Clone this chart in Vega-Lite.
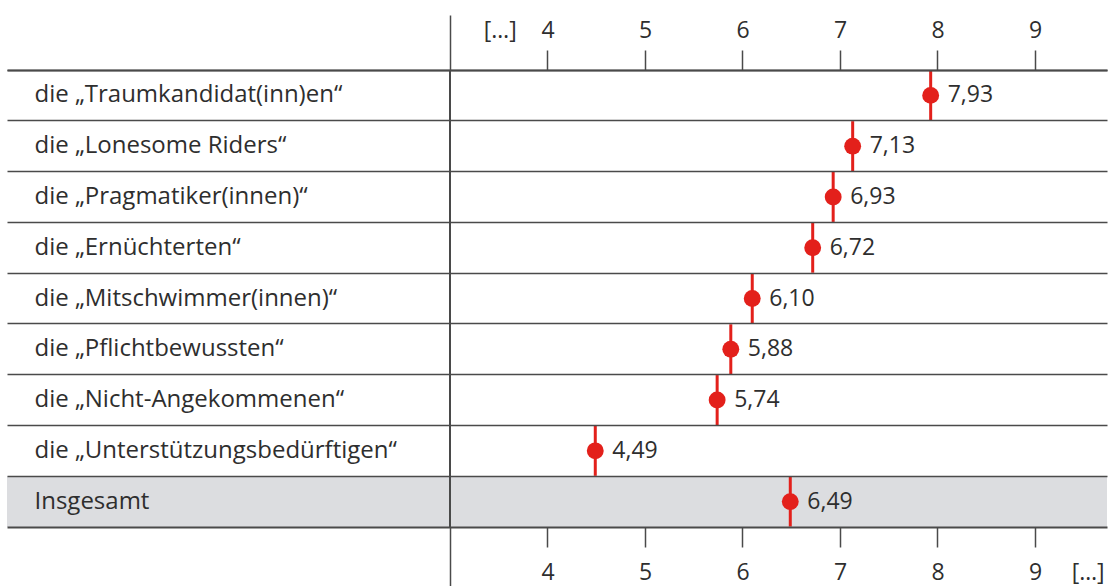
{
  "$schema": "https://vega.github.io/schema/vega-lite/v6.json",
  "width": 1100,
  "height": 457,
  "autosize": {"type": "none"},
  "padding": {"left": 7, "top": 70, "right": 4, "bottom": 59},
  "background": "#ffffff",
  "config": {
    "view": {"stroke": null},
    "font": "Open Sans",
    "locale": {"number": {"decimal": ",", "thousands": ".", "grouping": [3], "currency": ["", " €"]}}
  },
  "data": {
    "values": [
      {"gruppe": "die „Traumkandidat(inn)en“", "wert": 7.93},
      {"gruppe": "die „Lonesome Riders“", "wert": 7.13},
      {"gruppe": "die „Pragmatiker(innen)“", "wert": 6.93},
      {"gruppe": "die „Ernüchterten“", "wert": 6.72},
      {"gruppe": "die „Mitschwimmer(innen)“", "wert": 6.10},
      {"gruppe": "die „Pflichtbewussten“", "wert": 5.88},
      {"gruppe": "die „Nicht-Angekommenen“", "wert": 5.74},
      {"gruppe": "die „Unterstützungsbedürftigen“", "wert": 4.49},
      {"gruppe": "Insgesamt", "wert": 6.49}
    ]
  },
  "resolve": {"axis": {"x": "independent"}},
  "layer": [
    {
      "transform": [{"filter": "datum.gruppe == 'Insgesamt'"}],
      "mark": {"type": "rect", "color": "#dcdde0"},
      "encoding": {
        "y": {
          "field": "gruppe", "type": "nominal",
          "scale": {"type": "band", "paddingInner": 0, "paddingOuter": 0,
            "domain": ["die „Traumkandidat(inn)en“", "die „Lonesome Riders“", "die „Pragmatiker(innen)“", "die „Ernüchterten“", "die „Mitschwimmer(innen)“", "die „Pflichtbewussten“", "die „Nicht-Angekommenen“", "die „Unterstützungsbedürftigen“", "Insgesamt"]},
          "axis": {
            "orient": "left", "title": null, "domain": false, "ticks": false,
            "labelAlign": "left", "labelPadding": -27, "labelFontSize": 24, "labelLimit": 0,
            "labelColor": "#2e2e2e", "labelFont": "Open Sans",
            "grid": true, "bandPosition": 0, "gridColor": "#4a4a4a", "gridWidth": 1.5,
            "zindex": 1
          }
        },
        "x": {
          "datum": -1.5436, "type": "quantitative",
          "scale": {"domain": [-1.5436, 9.7385], "nice": false, "zero": false},
          "axis": {
            "orient": "top", "title": null,
            "values": [3, 3.51, 4, 5, 6, 7, 8, 9],
            "labelExpr": "datum.value == 3 ? '' : (datum.value == 3.51 ? '[…]' : format(datum.value, 'd'))",
            "labelFontSize": 23, "labelColor": "#2e2e2e", "labelPadding": 8,
            "labelFlush": false, "labelOverlap": false,
            "tickColor": "#4a4a4a", "tickWidth": 1.5,
            "tickSize": {"expr": "datum.value == 3 ? 55 : 20"},
            "tickOpacity": {"expr": "datum.value == 3.51 ? 0 : 1"},
            "domainColor": "#4a4a4a", "domainWidth": 2, "grid": false, "zindex": 1
          }
        },
        "x2": {"datum": 9.7385}
      }
    },
    {
      "mark": {"type": "rule", "color": "#4a4a4a", "strokeWidth": 1.5},
      "encoding": {
        "x": {
          "datum": 3, "type": "quantitative",
          "axis": {
            "orient": "bottom", "title": null,
            "values": [3, 4, 5, 6, 7, 8, 9, 9.54],
            "labelExpr": "datum.value == 3 ? '' : (datum.value == 9.54 ? '[…]' : format(datum.value, 'd'))",
            "labelFontSize": 23, "labelColor": "#2e2e2e", "labelPadding": 14,
            "labelFlush": false, "labelOverlap": false,
            "tickColor": "#4a4a4a", "tickWidth": 1.5,
            "tickSize": {"expr": "datum.value == 3 ? 59 : 20"},
            "tickOpacity": {"expr": "datum.value == 9.54 ? 0 : 1"},
            "domainColor": "#4a4a4a", "domainWidth": 2, "grid": false, "zindex": 1
          }
        }
      }
    },
    {
      "mark": {"type": "tick", "color": "#e3201b", "thickness": 3, "size": 50, "orient": "vertical", "opacity": 1},
      "encoding": {
        "y": {"field": "gruppe", "type": "nominal"},
        "x": {"field": "wert", "type": "quantitative", "axis": null}
      }
    },
    {
      "mark": {"type": "circle", "color": "#e3201b", "size": 285, "opacity": 1},
      "encoding": {
        "y": {"field": "gruppe", "type": "nominal"},
        "x": {"field": "wert", "type": "quantitative", "axis": null}
      }
    },
    {
      "mark": {"type": "text", "align": "left", "baseline": "middle", "dx": 17, "fontSize": 23, "color": "#2e2e2e"},
      "encoding": {
        "y": {"field": "gruppe", "type": "nominal"},
        "x": {"field": "wert", "type": "quantitative", "axis": null},
        "text": {"field": "wert", "type": "quantitative", "format": ".2f"}
      }
    }
  ]
}
